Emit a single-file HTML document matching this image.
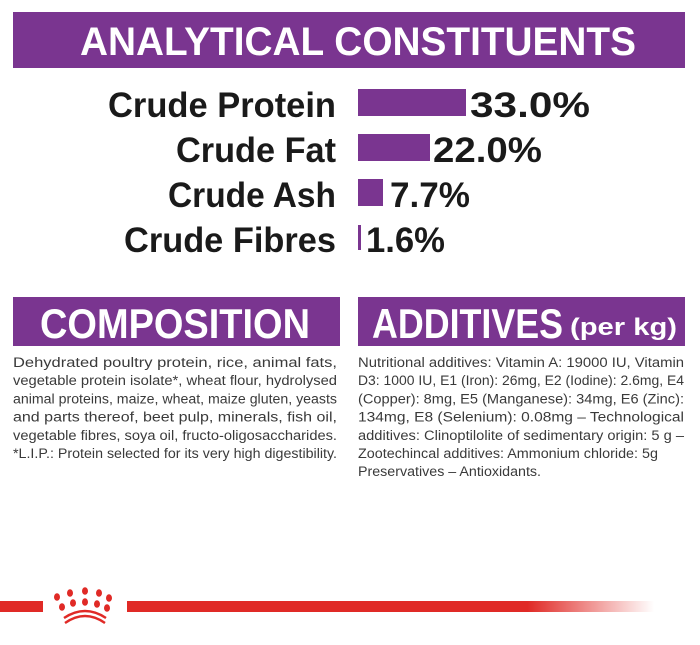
<!DOCTYPE html>
<html><head><meta charset="utf-8"><style>
html,body{margin:0;padding:0;background:#fff;width:700px;height:645px;overflow:hidden}
svg{display:block}
.b{font-family:"Liberation Sans Narrow","Liberation Sans",sans-serif;font-weight:bold}
.t{font-family:"Liberation Sans Narrow","Liberation Sans",sans-serif;fill:#3a3a3a;font-size:13.5px}
</style></head><body>
<svg width="700" height="645" viewBox="0 0 700 645" xmlns="http://www.w3.org/2000/svg">
<defs><linearGradient id="g" x1="0" x2="1"><stop offset="0.76" stop-color="#e02a26"/><stop offset="1" stop-color="#e02a26" stop-opacity="0"/></linearGradient></defs>
<rect x="13" y="12" width="672" height="56" fill="#7a3590"/>
<text class="b" x="80" y="55" font-size="40" fill="#fff" textLength="556" lengthAdjust="spacingAndGlyphs">ANALYTICAL CONSTITUENTS</text>
<g class="b" font-size="35" fill="#1a1a1a" text-anchor="end">
<text x="336" y="117" textLength="228" lengthAdjust="spacingAndGlyphs">Crude Protein</text>
<text x="336" y="162" textLength="160" lengthAdjust="spacingAndGlyphs">Crude Fat</text>
<text x="336" y="207" textLength="168" lengthAdjust="spacingAndGlyphs">Crude Ash</text>
<text x="336" y="252" textLength="212" lengthAdjust="spacingAndGlyphs">Crude Fibres</text>
</g>
<g fill="#7a3590">
<rect x="358" y="89" width="108" height="27"/>
<rect x="358" y="134" width="72" height="27"/>
<rect x="358" y="179" width="25" height="27"/>
<rect x="358" y="225" width="3" height="25"/>
</g>
<g class="b" font-size="35" fill="#1a1a1a">
<text x="470" y="117" textLength="120" lengthAdjust="spacingAndGlyphs">33.0%</text>
<text x="433" y="162" textLength="109" lengthAdjust="spacingAndGlyphs">22.0%</text>
<text x="390" y="207" textLength="80" lengthAdjust="spacingAndGlyphs">7.7%</text>
<text x="366" y="252" textLength="79" lengthAdjust="spacingAndGlyphs">1.6%</text>
</g>
<rect x="13" y="297" width="327" height="49" fill="#7a3590"/>
<rect x="358" y="297" width="327" height="49" fill="#7a3590"/>
<text class="b" x="40" y="338" font-size="42" fill="#fff" textLength="270" lengthAdjust="spacingAndGlyphs">COMPOSITION</text>
<text class="b" x="372" y="338" font-size="42" fill="#fff" textLength="191" lengthAdjust="spacingAndGlyphs">ADDITIVES</text>
<text class="b" x="570" y="335" font-size="24" fill="#fff" textLength="107" lengthAdjust="spacingAndGlyphs">(per kg)</text>
<g class="t">
<text x="13" y="367" textLength="324" lengthAdjust="spacingAndGlyphs">Dehydrated poultry protein, rice, animal fats,</text>
<text x="13" y="385.2" textLength="324" lengthAdjust="spacingAndGlyphs">vegetable protein isolate*, wheat flour, hydrolysed</text>
<text x="13" y="403.4" textLength="324" lengthAdjust="spacingAndGlyphs">animal proteins, maize, wheat, maize gluten, yeasts</text>
<text x="13" y="421.6" textLength="324" lengthAdjust="spacingAndGlyphs">and parts thereof, beet pulp, minerals, fish oil,</text>
<text x="13" y="439.8" textLength="324" lengthAdjust="spacingAndGlyphs">vegetable fibres, soya oil, fructo-oligosaccharides.</text>
<text x="13" y="458" textLength="324" lengthAdjust="spacingAndGlyphs">*L.I.P.: Protein selected for its very high digestibility.</text>
<text x="358" y="367" textLength="326" lengthAdjust="spacingAndGlyphs">Nutritional additives: Vitamin A: 19000 IU, Vitamin</text>
<text x="358" y="385.2" textLength="326" lengthAdjust="spacingAndGlyphs">D3: 1000 IU, E1 (Iron): 26mg, E2 (Iodine): 2.6mg, E4</text>
<text x="358" y="403.4" textLength="326" lengthAdjust="spacingAndGlyphs">(Copper): 8mg, E5 (Manganese): 34mg, E6 (Zinc):</text>
<text x="358" y="421.6" textLength="326" lengthAdjust="spacingAndGlyphs">134mg, E8 (Selenium): 0.08mg – Technological</text>
<text x="358" y="439.8" textLength="326" lengthAdjust="spacingAndGlyphs">additives: Clinoptilolite of sedimentary origin: 5 g –</text>
<text x="358" y="458" textLength="300" lengthAdjust="spacingAndGlyphs">Zootechincal additives: Ammonium chloride: 5g</text>
<text x="358" y="476.2" textLength="183" lengthAdjust="spacingAndGlyphs">Preservatives – Antioxidants.</text>
</g>
<rect x="0" y="601" width="43" height="11" fill="#e02a26"/>
<rect x="127" y="601" width="527" height="11" fill="url(#g)"/>
<g fill="#e02a26">
<ellipse cx="57" cy="597" rx="3" ry="3.8"/>
<ellipse cx="70" cy="593" rx="3" ry="3.8"/>
<ellipse cx="85" cy="591" rx="3" ry="3.8"/>
<ellipse cx="99" cy="593" rx="3" ry="3.8"/>
<ellipse cx="109" cy="598" rx="3" ry="3.8"/>
<ellipse cx="62" cy="607" rx="3" ry="3.8"/>
<ellipse cx="73" cy="603" rx="3" ry="3.8"/>
<ellipse cx="85" cy="602" rx="3" ry="3.8"/>
<ellipse cx="97" cy="604" rx="3" ry="3.8"/>
<ellipse cx="107" cy="608" rx="3" ry="3.8"/>
</g>
<path d="M64 618 Q85 604 106 618" stroke="#e02a26" stroke-width="2.4" fill="none"/>
<path d="M65 623 Q85 609 105 623" stroke="#e02a26" stroke-width="2.4" fill="none"/>
</svg>
</body></html>
